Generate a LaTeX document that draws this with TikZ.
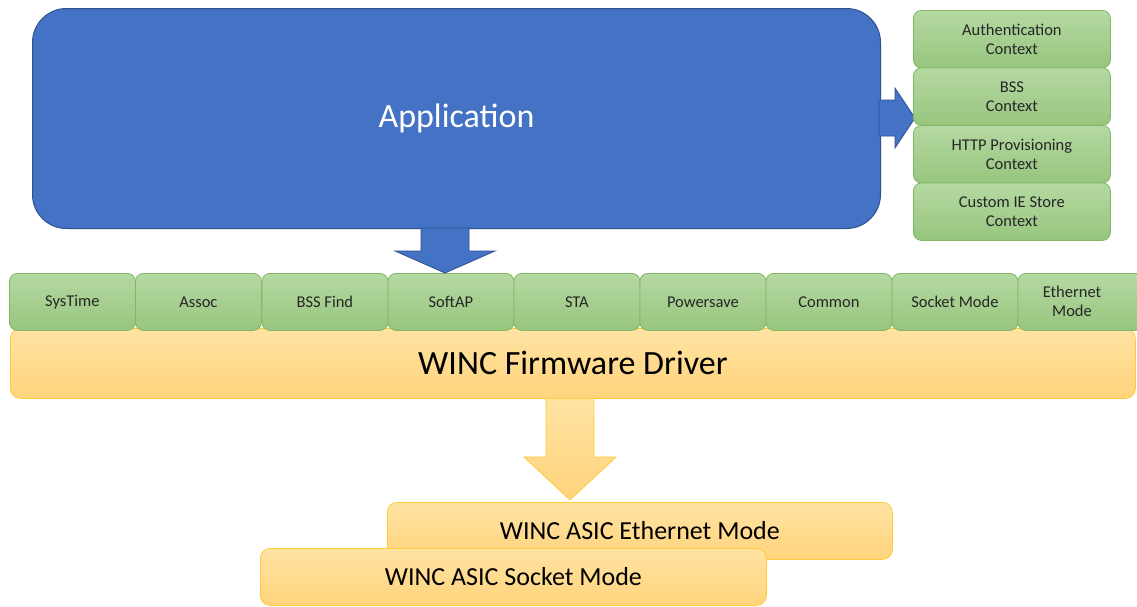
\documentclass[tikz,border=0pt]{standalone}
\usepackage{fontspec}
\setmainfont{Carlito}
\usetikzlibrary{calc}
\definecolor{appblue}{HTML}{4472C4}
\definecolor{appborder}{HTML}{2F528F}
\definecolor{gtop}{HTML}{B5D9A2}
\definecolor{gbot}{HTML}{97C57E}
\definecolor{gborder}{HTML}{82B864}
\definecolor{otop}{HTML}{FFE3A3}
\definecolor{obot}{HTML}{FFD47C}
\definecolor{oborder}{HTML}{FFCA3A}
\definecolor{txt}{HTML}{262626}
\begin{document}
\begin{tikzpicture}[x=1pt,y=-1pt,
  appbox/.style={draw=appborder, fill=appblue, line width=1pt, rounded corners=34pt,
    minimum width=848, minimum height=220, inner sep=0, text=white,
    font=\fontsize{34}{40}\selectfont, anchor=north west},
  gbox/.style={draw=gborder, top color=gtop, bottom color=gbot, line width=0.8pt,
    rounded corners=8pt, inner sep=0, align=center, text=txt,
    font=\fontsize{16.5}{19.5}\selectfont, anchor=north west},
  ctxbox/.style={gbox, minimum width=197, minimum height=57.5},
  cellbox/.style={gbox, minimum width=126, minimum height=57},
  obox/.style={draw=oborder, top color=otop, bottom color=obot, line width=0.8pt,
    rounded corners=10pt, inner sep=0, text=black, anchor=north west},
  bluearrow/.style={draw=appborder, fill=appblue, line width=0.8pt, line join=miter},
  orangearrow/.style={draw=oborder, top color=otop, bottom color=obot, line width=0.8pt, line join=miter},
  lbl/.style={align=center, text=txt, font=\fontsize{16.5}{19.5}\selectfont, inner sep=0}
]
\useasboundingbox (0,0) rectangle (1137,606);
\fill[white] (0,0) rectangle (1137,606);

% Application
\node[appbox] (app) at (32,8) {Application};

% right arrow to contexts
\coordinate (rT) at (915,118);
\draw[bluearrow] ($(app.east |- rT)+(-2,-18)$) -- ($(rT)+(-20,-18)$) -- ($(rT)+(-20,-30)$)
  -- (rT) -- ($(rT)+(-20,30)$) -- ($(rT)+(-20,18)$) -- ($(app.east |- rT)+(-2,18)$) -- cycle;

% context stack
\node[ctxbox] (ctx1) at (913,10) {Authentication\\Context};
\node[ctxbox] (ctx2) at (913,67.5) {BSS\\Context};
\node[ctxbox] (ctx3) at (913,125) {HTTP Provisioning\\Context};
\node[ctxbox] (ctx4) at (913,182.5) {Custom IE Store\\Context};

% WINC firmware driver band
\node[obox, minimum width=1125, minimum height=70, font=\fontsize{34}{40}\selectfont] (drv) at (10,328) {WINC Firmware Driver};

% green module row
\node[cellbox] (systime) at (9,273) {SysTime};
\node[cellbox] (assoc) at (135,273) {Assoc};
\node[cellbox] (bssfind) at (261.5,273) {BSS Find};
\node[cellbox] (softap) at (387.5,273) {SoftAP};
\node[cellbox] (sta) at (513.5,273) {STA};
\node[cellbox] (powersave) at (639.5,273) {Powersave};
\node[cellbox] (common) at (765.5,273) {Common};
\node[cellbox] (socketmode) at (891.5,273) {Socket Mode};
\node[cellbox] (ethmode) at (1017.5,273) {};
\node[lbl] (ethlbl) at (1072,301.5) {Ethernet\\Mode};

% blue arrow down from application
\coordinate (dA) at (445,0);
\draw[bluearrow] ($(dA |- app.south)+(-24,-1)$) -- ($(dA |- softap.north)+(-24,-22)$)
  -- ($(dA |- softap.north)+(-50,-22)$) -- (dA |- softap.north)
  -- ($(dA |- softap.north)+(50,-22)$) -- ($(dA |- softap.north)+(24,-22)$)
  -- ($(dA |- app.south)+(24,-1)$) -- cycle;

% ASIC modes
\node[obox, minimum width=505, minimum height=57, font=\fontsize{26}{30}\selectfont] (ethasic) at (387,502) {WINC ASIC Ethernet Mode};
\node[obox, minimum width=506, minimum height=57, font=\fontsize{26}{30}\selectfont] (sockasic) at (260,548) {WINC ASIC Socket Mode};

% orange arrow down from driver
\coordinate (oA) at (570,0);
\draw[orangearrow] ($(oA |- drv.south)+(-24,0)$) -- ($(oA |- ethasic.north)+(-24,-45)$)
  -- ($(oA |- ethasic.north)+(-46,-45)$) -- ($(oA |- ethasic.north)+(0,-2)$)
  -- ($(oA |- ethasic.north)+(46,-45)$) -- ($(oA |- ethasic.north)+(24,-45)$)
  -- ($(oA |- drv.south)+(24,0)$);
\end{tikzpicture}
\end{document}
